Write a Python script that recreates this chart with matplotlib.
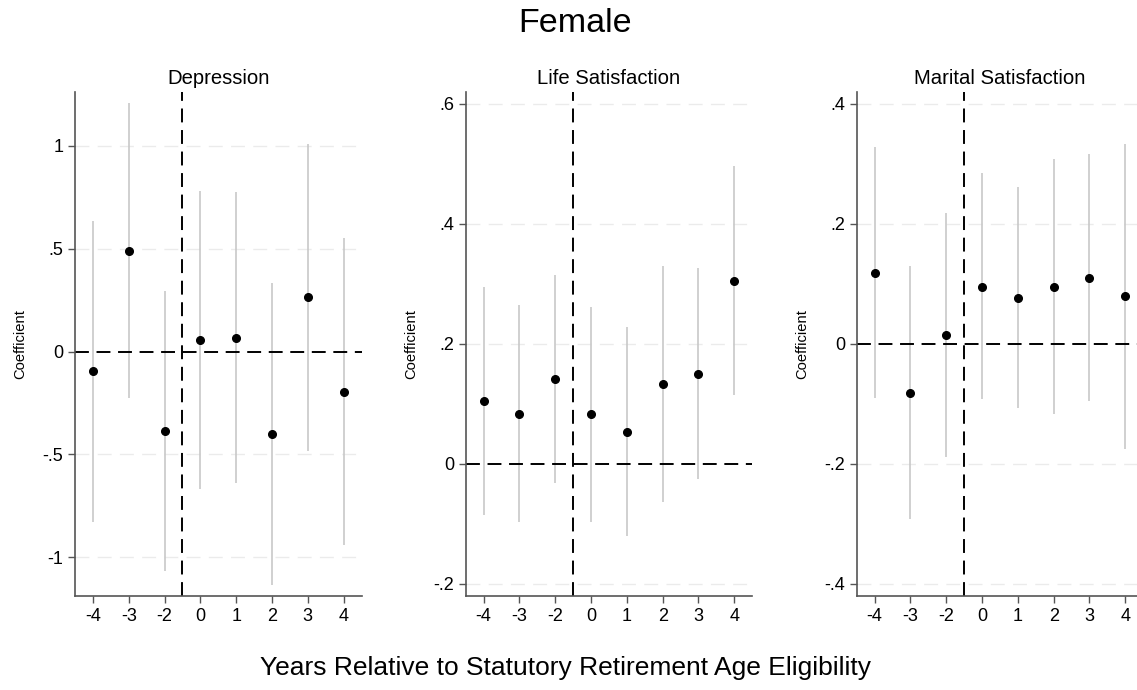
import matplotlib
matplotlib.use("Agg")
import matplotlib.pyplot as plt
import numpy as np

plt.rcParams['font.family'] = ['Liberation Sans', 'DejaVu Sans']
plt.rcParams['lines.scale_dashes'] = False

# ---- data ----
years = ['-4', '-3', '-2', '0', '1', '2', '3', '4']

titles = ['Depression', 'Life Satisfaction', 'Marital Satisfaction']

dep_coef = [-0.096, 0.490, -0.384, 0.058, 0.068, -0.401, 0.265, -0.194]
dep_lo = [-0.829, -0.227, -1.065, -0.668, -0.640, -1.134, -0.483, -0.942]
dep_hi = [0.637, 1.208, 0.297, 0.782, 0.777, 0.335, 1.012, 0.555]

life_coef = [0.104, 0.083, 0.141, 0.082, 0.053, 0.132, 0.150, 0.305]
life_lo = [-0.086, -0.097, -0.032, -0.098, -0.121, -0.064, -0.025, 0.114]
life_hi = [0.295, 0.264, 0.314, 0.261, 0.227, 0.329, 0.326, 0.496]

mar_coef = [0.118, -0.083, 0.014, 0.095, 0.076, 0.095, 0.110, 0.079]
mar_lo = [-0.090, -0.293, -0.189, -0.093, -0.107, -0.117, -0.095, -0.175]
mar_hi = [0.327, 0.129, 0.217, 0.285, 0.261, 0.307, 0.316, 0.332]

dep_ticks = [-1, -0.5, 0, 0.5, 1]
dep_ticklabels = ['-1', '-.5', '0', '.5', '1']
life_ticks = [-0.2, 0, 0.2, 0.4, 0.6]
life_ticklabels = ['-.2', '0', '.2', '.4', '.6']
mar_ticks = [-0.4, -0.2, 0, 0.2, 0.4]
mar_ticklabels = ['-.4', '-.2', '0', '.2', '.4']

ylims = [(-1.188, 1.261), (-0.2207, 0.619), (-0.4207, 0.419)]

panels = [
    (dep_coef, dep_lo, dep_hi, dep_ticks, dep_ticklabels),
    (life_coef, life_lo, life_hi, life_ticks, life_ticklabels),
    (mar_coef, mar_lo, mar_hi, mar_ticks, mar_ticklabels),
]

W, H = 1137, 690
fig = plt.figure(figsize=(W / 100, H / 100), dpi=100)

lefts_px = [75, 465.7, 856.7]
width_px = 286.5
top_px, bottom_px = 92.3, 596

spine_col = '#555555'
for i, (coef, lo, hi, ticks, tlabels) in enumerate(panels):
    ax = fig.add_axes([lefts_px[i] / W, 1 - bottom_px / H,
                       width_px / W, (bottom_px - top_px) / H])
    xpos = np.arange(1, len(years) + 1)
    ax.set_xlim(0.5, len(years) + 0.5)
    ax.set_ylim(*ylims[i])
    # gridlines
    for t in ticks:
        if t != 0:
            ax.axhline(t, color='#ebebeb', lw=1.0, dashes=(10, 6), zorder=0)
    # CI lines
    ax.vlines(xpos, lo, hi, color='#c8c8c8', lw=1.2, zorder=1)
    # reference lines
    ax.axhline(0, color='black', lw=1.4, dashes=(10, 5.5), zorder=2)
    ax.axvline(3.5, color='black', lw=1.4, dashes=(10, 5.5), zorder=2)
    # points
    ax.plot(xpos, coef, 'o', color='black', ms=5.5, zorder=3)

    ax.set_xticks(xpos)
    ax.set_xticklabels(years)
    ax.set_yticks(ticks)
    ax.set_yticklabels(tlabels)
    ax.tick_params(axis='both', length=5.3, width=1.0, color=spine_col,
                   labelsize=13, pad=3.0, labelcolor='black')
    for s in ['top', 'right']:
        ax.spines[s].set_visible(False)
    for s in ['left', 'bottom']:
        ax.spines[s].set_color(spine_col)
        ax.spines[s].set_linewidth(1.2)
    ax.set_ylabel('Coefficient', fontsize=10.6)
    ax.yaxis.set_label_coords(-0.165, 0.5)
    ax.set_title(titles[i], fontsize=14.6, pad=6)
    ax.patch.set_alpha(0)

fig.text(575 / W, 1 - 32.3 / H, 'Female', fontsize=24.5, ha='center', va='baseline')
fig.text(565.5 / W, 1 - 674.5 / H, 'Years Relative to Statutory Retirement Age Eligibility',
         fontsize=19, ha='center', va='baseline')

fig.savefig('out.png', dpi=100, facecolor='white')
